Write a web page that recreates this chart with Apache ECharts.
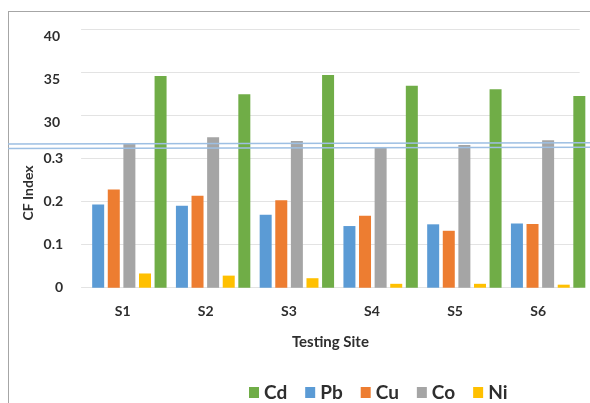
<!DOCTYPE html>
<html>
<head>
<meta charset="utf-8">
<script src="https://cdn.jsdelivr.net/npm/echarts@6/dist/echarts.min.js"></script>
<style>
html,body{margin:0;padding:0;background:#fff;}
#chart{width:590px;height:403px;}
</style>
</head>
<body>
<div id="chart"></div>
<script>
const categories = ['S1', 'S2', 'S3', 'S4', 'S5', 'S6'];
const cdValues = [34.55, 32.43, 34.67, 33.43, 33.0, 32.23];
const pbValues = [0.193, 0.190, 0.169, 0.143, 0.147, 0.149];
const cuValues = [0.228, 0.213, 0.203, 0.167, 0.132, 0.148];
const coValues = [0.335, 0.349, 0.340, 0.326, 0.331, 0.342];
const niValues = [0.033, 0.028, 0.022, 0.009, 0.009, 0.007];
const lowerTickLabels = ['0', '0.1', '0.2', '0.3'];
const upperTickLabels = ['30', '35', '40'];

const FONT = 'Lato';
const TXT = '#2e2e2e';
const colors = {Cd: '#70AD47', Pb: '#5B9BD5', Cu: '#ED7D31', Co: '#A5A5A5', Ni: '#FFC000'};

const chart = echarts.init(document.getElementById('chart'));

const gridTop = 29, gridHeight = 258.7;

function lowerFmt(v) {
  const r = Math.round(v * 10) / 10;
  const s = r === 0 ? '0' : r.toFixed(1);
  return lowerTickLabels.includes(s) ? s : '';
}
function upperFmt(v) {
  const s = String(Math.round(v));
  return upperTickLabels.includes(s) ? s : '';
}

function bar(name, data, yIdx) {
  return {
    name: name, type: 'bar', xAxisIndex: 1, yAxisIndex: yIdx,
    data: data, barWidth: 12, barGap: '30%',
    itemStyle: {color: colors[name]},
    clip: true
  };
}

chart.setOption({
  animation: false,
  backgroundColor: '#fff',
  grid: [
    {left: 81.1, width: 498.6, top: gridTop, height: gridHeight},
    {left: 87.5, width: 503.5, top: gridTop, height: gridHeight}
  ],
  xAxis: [
    {
      type: 'category', gridIndex: 0, data: categories,
      axisLine: {show: false}, axisTick: {show: false},
      axisLabel: {margin: 17, fontFamily: FONT, fontWeight: 'bold', fontSize: 14, color: TXT},
      name: 'Testing Site', nameLocation: 'middle', nameGap: 47,
      nameTextStyle: {fontFamily: FONT, fontWeight: 'bold', fontSize: 15, color: TXT}
    },
    {
      type: 'category', gridIndex: 1, data: categories, show: false
    }
  ],
  yAxis: [
    {
      type: 'value', gridIndex: 0, position: 'left', min: 0, max: 0.6, interval: 0.1,
      axisLine: {show: false}, axisTick: {show: false},
      splitLine: {show: true, lineStyle: {color: '#E3E3E3', width: 1}},
      axisLabel: {margin: 18, formatter: lowerFmt, fontFamily: FONT, fontWeight: 'bold', fontSize: 14, color: TXT}
    },
    {
      type: 'value', gridIndex: 0, position: 'left', offset: 0, min: 10, max: 40, interval: 5,
      axisLine: {show: false}, axisTick: {show: false},
      splitLine: {show: false},
      axisLabel: {margin: 21, formatter: upperFmt, verticalAlign: 'top', fontFamily: FONT, fontWeight: 'bold', fontSize: 14, color: TXT}
    },
    {type: 'value', gridIndex: 1, min: 0, max: 0.6, show: false, splitLine: {show: false}},
    {type: 'value', gridIndex: 1, position: 'left', min: 10, max: 40, show: false, splitLine: {show: false}}
  ],
  legend: {
    data: ['Cd', 'Pb', 'Cu', 'Co', 'Ni'],
    left: 249, top: 383, padding: 0,
    icon: 'rect', itemWidth: 10, itemHeight: 11, itemGap: 18,
    textStyle: {fontFamily: FONT, fontWeight: 'bold', fontSize: 19, color: TXT}
  },
  series: [
    bar('Pb', pbValues, 2),
    bar('Cu', cuValues, 2),
    bar('Co', coValues, 2),
    bar('Ni', niValues, 2),
    bar('Cd', cdValues, 3)
  ],
  graphic: [
    {type: 'line', z: 100, shape: {x1: 8, y1: 11.5, x2: 590, y2: 11.5}, style: {stroke: '#A6A6A6', lineWidth: 1}},
    {type: 'line', z: 100, shape: {x1: 8.5, y1: 11, x2: 8.5, y2: 403}, style: {stroke: '#A6A6A6', lineWidth: 1}},
    {type: 'line', z: 100, shape: {x1: 8, y1: 144, x2: 590, y2: 142.7}, style: {stroke: '#9DBFE3', lineWidth: 1.5}},
    {type: 'line', z: 100, shape: {x1: 8, y1: 148.4, x2: 590, y2: 147.3}, style: {stroke: '#9DBFE3', lineWidth: 1.5}},
    {
      type: 'text', x: 28, y: 193, rotation: Math.PI / 2, z: 100,
      style: {text: 'CF Index', fontFamily: FONT, fontWeight: 'bold', fontSize: 14, fill: TXT, align: 'center', verticalAlign: 'middle'}
    }
  ]
});
</script>
</body>
</html>
